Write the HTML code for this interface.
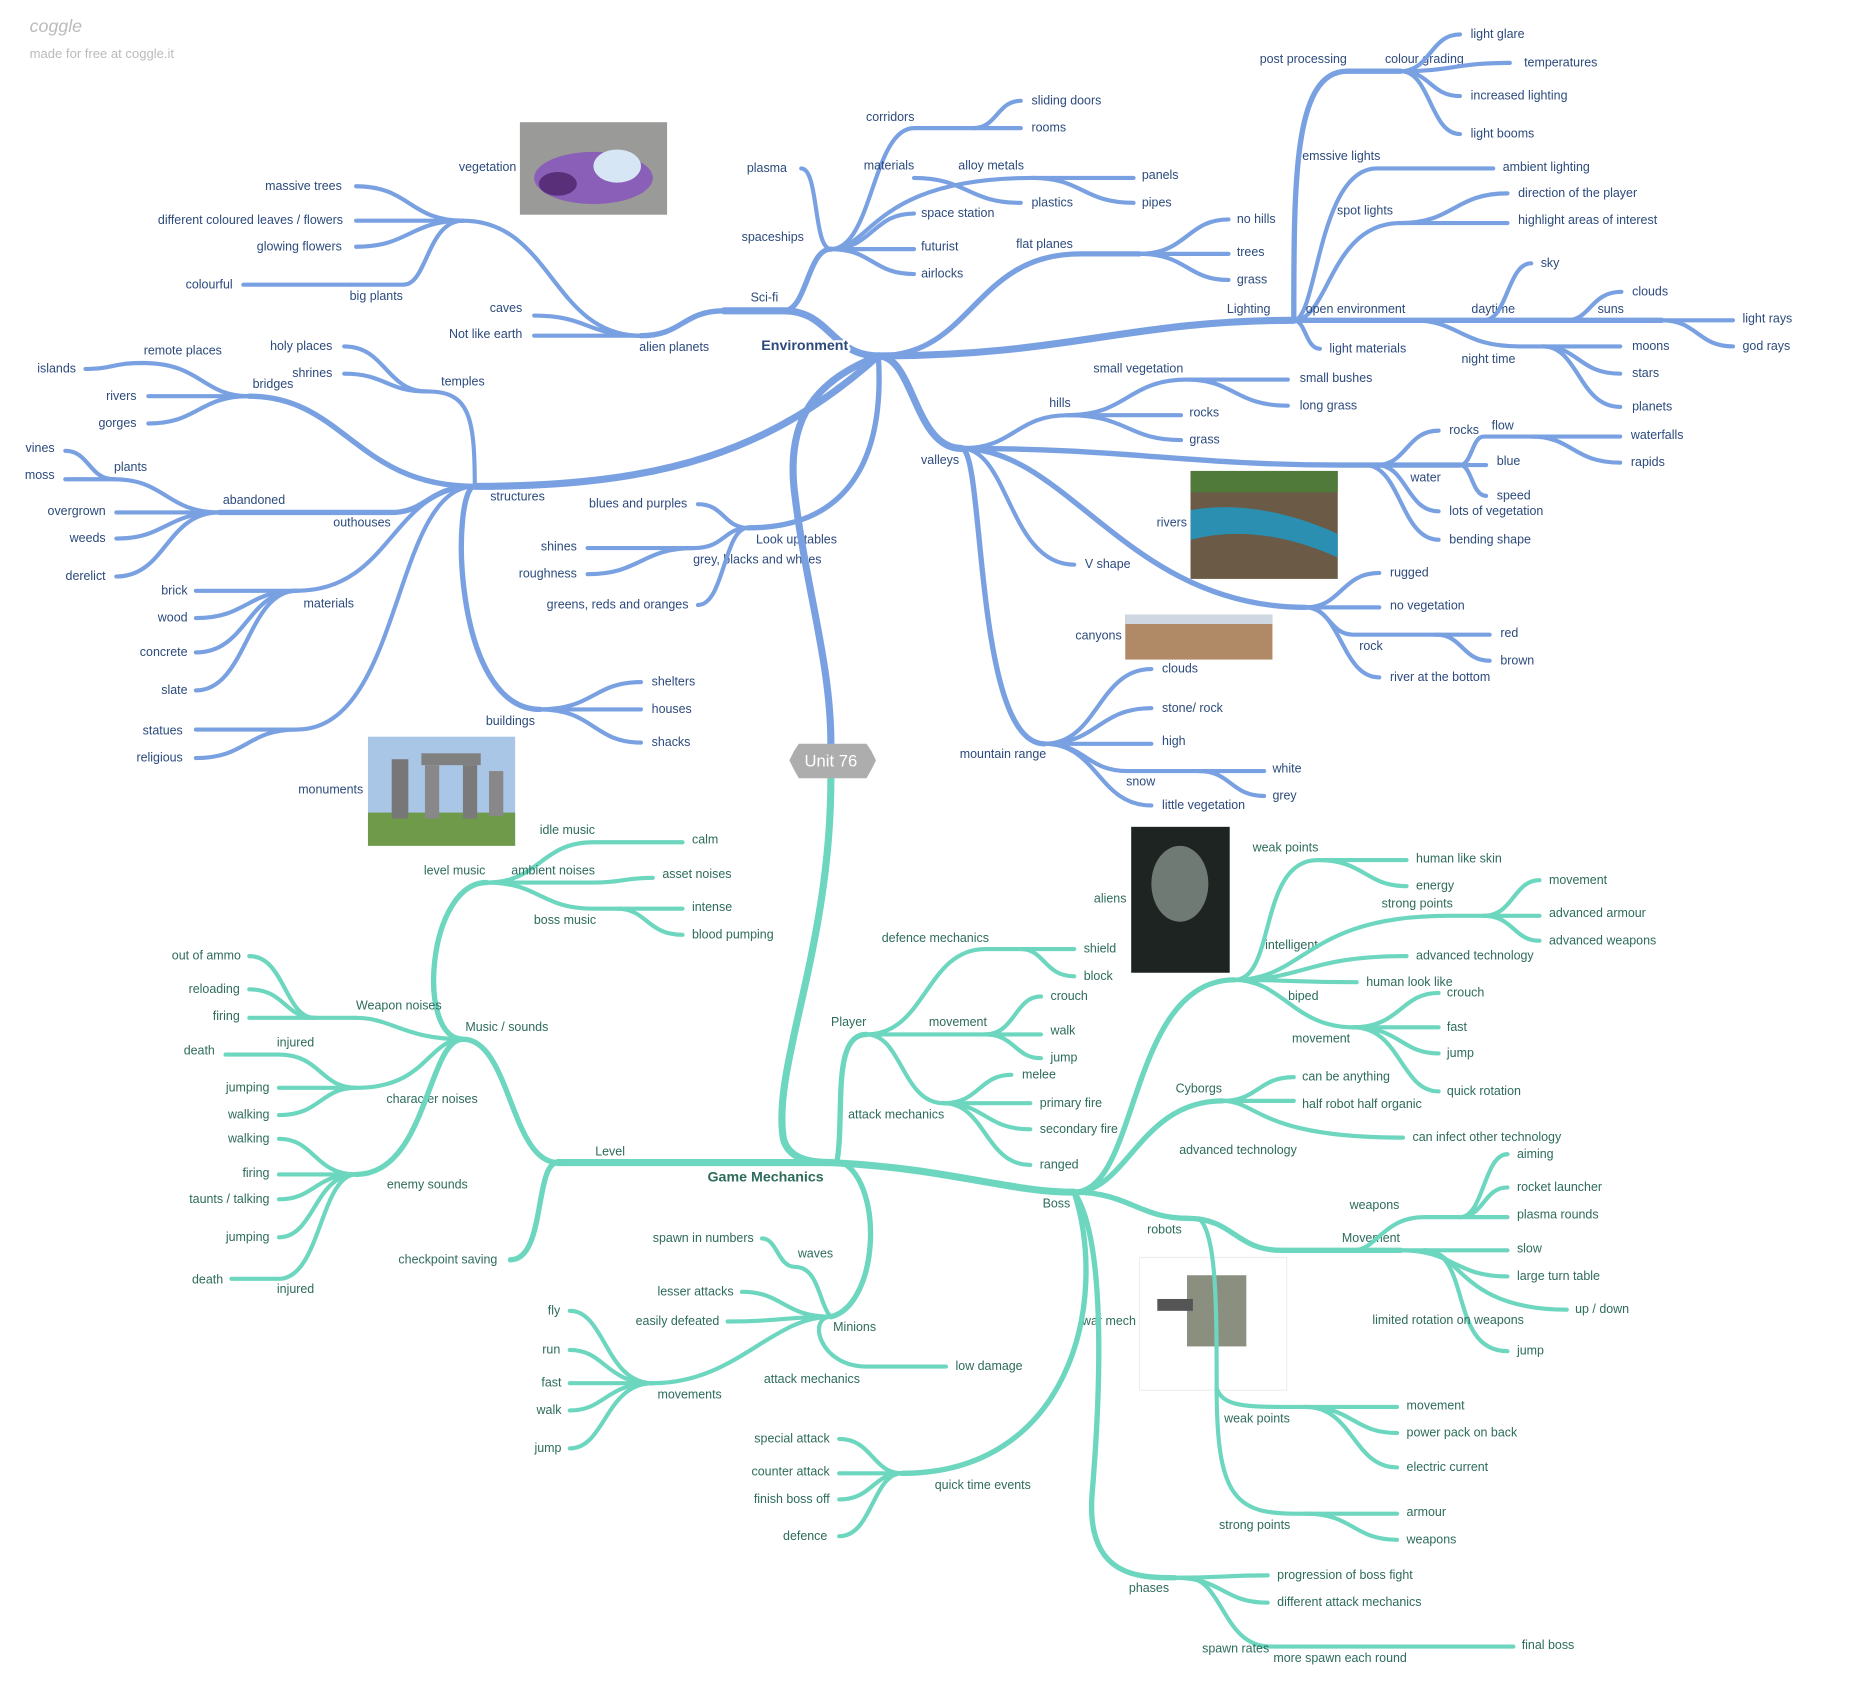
<!DOCTYPE html>
<html><head><meta charset="utf-8"><style>
html,body{margin:0;padding:0;background:#fff}
svg{display:block}
text{font-family:"Liberation Sans",sans-serif;font-size:10.5px}
.b path{stroke:#79a1e2;fill:none;stroke-linecap:round;stroke-width:3.5}
.g path{stroke:#6cd6bf;fill:none;stroke-linecap:round;stroke-width:3.5}
.b text{fill:#2c4a7c}.g text{fill:#2d6b5b}
.r{text-anchor:end}.c{text-anchor:middle}
.w6{stroke-width:6!important}.w5{stroke-width:4.5!important}
.halo{paint-order:stroke;stroke:#fff;stroke-width:4px;stroke-linejoin:round}
</style></head><body>
<svg width="1860" height="1694" viewBox="0 0 1567 1428" preserveAspectRatio="none" xmlns="http://www.w3.org/2000/svg">
<text x="25" y="27" style="font-size:15px;font-style:italic;fill:#bbb">coggle</text>
<text x="25" y="49" style="font-size:11px;fill:#bbb">made for free at coggle.it</text>

<rect x="438" y="103" width="124" height="78" fill="#9a9a98"/>
<ellipse cx="500" cy="150" rx="50" ry="22" fill="#8a5fb8"/><ellipse cx="520" cy="140" rx="20" ry="14" fill="#d7e6f5"/><ellipse cx="470" cy="155" rx="16" ry="10" fill="#5a2f7a"/>
<rect x="310" y="621" width="124" height="92" fill="#a9c6e6"/><rect x="310" y="685" width="124" height="28" fill="#6f9a4a"/>
<rect x="330" y="640" width="14" height="50" fill="#777"/><rect x="355" y="635" width="50" height="10" fill="#808080"/><rect x="358" y="645" width="12" height="45" fill="#888"/><rect x="390" y="645" width="12" height="45" fill="#7a7a7a"/><rect x="412" y="650" width="12" height="38" fill="#888"/>
<rect x="1003" y="397" width="124" height="91" fill="#6b5a45"/><path d="M1003 430 Q1060 420 1127 450 L1127 470 Q1060 440 1003 455Z" fill="#2a8fb0"/><rect x="1003" y="397" width="124" height="18" fill="#4f7a3a"/>
<rect x="948" y="518" width="124" height="38" fill="#b08a66"/><rect x="948" y="518" width="124" height="8" fill="#cfd8e2"/>
<rect x="953" y="697" width="83" height="123" fill="#1e2422"/><ellipse cx="994" cy="745" rx="24" ry="32" fill="#6f7a74"/>
<rect x="960" y="1060" width="124" height="112" fill="#fff" stroke="#eee"/><rect x="1000" y="1075" width="50" height="60" fill="#8a8f80"/><rect x="975" y="1095" width="30" height="10" fill="#555"/>

<g class="b">
<path class="w6" d="M740 300 C700 300 700 262 660 262 H610"/><text x="644" y="254" class="c">Sci-fi</text>
<path class="w5" d="M610 262 C575 262 575 283 540 283"/><text x="568" y="296" class="c">alien planets</text>
<path d="M540 283 C495 283 495 266 450 266"/><text x="440" y="263" class="r">caves</text>
<path d="M540 283 H450"/><text x="440" y="285" class="r">Not like earth</text>
<path d="M540 283 C465 283 465 186 390 186"/><text x="435" y="144" class="r">vegetation</text>
<path d="M390 186 C345 186 345 157 300 157"/><text x="288" y="160" class="r">massive trees</text>
<path d="M390 186 H300"/><text x="289" y="189" class="r">different coloured leaves / flowers</text>
<path d="M390 186 C345 186 345 208 300 208"/><text x="288" y="211" class="r">glowing flowers</text>
<path d="M390 186 C360 186 360 240 340 240 H295"/><text x="317" y="253" class="c">big plants</text>
<path d="M295 240 H205"/><text x="196" y="243" class="r">colourful</text>
<path class="w5" d="M660 262 C680 262 680 210 700 210"/><text x="651" y="203" class="c">spaceships</text>
<path d="M700 210 C685 210 690 142 675 142"/><text x="663" y="145" class="r">plasma</text>
<path d="M700 210 C735 210 735 108 770 108 H820"/><text x="750" y="102" class="c">corridors</text>
<path d="M820 108 C840 108 840 85 860 85"/><text x="869" y="88">sliding doors</text>
<path d="M820 108 H860"/><text x="869" y="111">rooms</text>
<path d="M700 210 C735 210 735 150 870 150"/><text x="749" y="143" class="c">materials</text><text x="835" y="143" class="c">alloy metals</text>
<path d="M870 150 H955"/><text x="962" y="151">panels</text>
<path d="M870 150 C912 150 912 171 955 171"/><text x="962" y="174">pipes</text>
<path d="M770 150 C815 150 815 171 860 171"/><text x="869" y="174">plastics</text>
<path d="M700 210 C735 210 735 180 770 180"/><text x="776" y="183">space station</text>
<path d="M700 210 H770"/><text x="776" y="211">futurist</text>
<path d="M700 210 C735 210 735 231 770 231"/><text x="776" y="234">airlocks</text>

<path class="w6" d="M740 300 C900 300 950 270 1090 270"/><text x="1052" y="264" class="c">Lighting</text>
<path class="w5" d="M1090 270 C1090 150 1090 60 1135 60 H1180"/><text x="1098" y="53" class="c">post processing</text>
<text x="1200" y="53" class="c">colour grading</text>
<path d="M1180 60 C1205 60 1205 29 1230 29"/><text x="1239" y="32">light glare</text>
<path d="M1180 60 C1225 60 1225 53 1272 53"/><text x="1284" y="56">temperatures</text>
<path d="M1180 60 C1205 60 1205 81 1230 81"/><text x="1239" y="84">increased lighting</text>
<path d="M1180 60 C1205 60 1205 113 1230 113"/><text x="1239" y="116">light booms</text>
<path d="M1090 270 C1110 270 1110 142 1160 142 H1258"/><text x="1130" y="135" class="c">emssive lights</text><text x="1266" y="144">ambient lighting</text>
<path d="M1090 270 C1120 270 1120 188 1180 188"/><text x="1150" y="181" class="c">spot lights</text>
<path d="M1180 188 C1225 188 1225 163 1270 163"/><text x="1279" y="166">direction of the player</text>
<path d="M1180 188 H1270"/><text x="1279" y="189">highlight areas of interest</text>
<path class="w5" d="M1090 270 H1400"/><text x="1142" y="264" class="c">open environment</text><text x="1258" y="264" class="c">daytime</text><text x="1357" y="264" class="c">suns</text>
<path d="M1250 270 C1270 270 1270 222 1290 222"/><text x="1298" y="225">sky</text>
<path d="M1400 270 H1460"/><text x="1468" y="272">light rays</text>
<path d="M1400 270 C1430 270 1430 292 1460 292"/><text x="1468" y="295">god rays</text>
<path d="M1320 270 C1340 270 1340 246 1366 246"/><text x="1375" y="249">clouds</text>
<path d="M1190 270 C1230 270 1230 292 1280 292 H1365"/><text x="1254" y="306" class="c">night time</text><text x="1375" y="295">moons</text>
<path d="M1300 292 C1330 292 1330 315 1365 315"/><text x="1375" y="318">stars</text>
<path d="M1300 292 C1330 292 1330 343 1365 343"/><text x="1375" y="346">planets</text>
<path d="M1090 270 C1100 270 1100 294 1112 294"/><text x="1120" y="297">light materials</text>

<path class="w5" d="M740 300 C820 300 820 214 910 214 H960"/><text x="880" y="209" class="c">flat planes</text>
<path d="M960 214 C1000 214 1000 185 1035 185"/><text x="1042" y="188">no hills</text>
<path d="M960 214 H1035"/><text x="1042" y="216">trees</text>
<path d="M960 214 C1000 214 1000 236 1035 236"/><text x="1042" y="239">grass</text>

<path class="w6" d="M740 300 C770 300 770 378 810 378"/><text x="792" y="391" class="c">valleys</text>
<path d="M810 378 C855 378 855 350 900 350"/><text x="893" y="343" class="c">hills</text>
<path d="M900 350 C950 350 950 320 1000 320 H1085"/><text x="959" y="314" class="c">small vegetation</text><text x="1095" y="322">small bushes</text>
<path d="M1000 320 C1040 320 1040 342 1085 342"/><text x="1095" y="345">long grass</text>
<path d="M900 350 H995"/><text x="1002" y="351">rocks</text>
<path d="M900 350 C950 350 950 371 995 371"/><text x="1002" y="374">grass</text>
<path class="w5" d="M810 378 C950 378 1000 392 1130 392 H1230"/><text x="1201" y="406" class="c">water</text>
<path d="M1160 392 C1185 392 1185 363 1212 363"/><text x="1221" y="366">rocks</text>
<path d="M1230 392 C1240 392 1240 368 1250 368 H1290"/><text x="1266" y="362" class="c">flow</text>
<path d="M1290 368 H1365"/><text x="1374" y="370">waterfalls</text>
<path d="M1290 368 C1325 368 1325 390 1365 390"/><text x="1374" y="393">rapids</text>
<path d="M1230 392 H1252"/><text x="1261" y="392">blue</text>
<path d="M1230 392 C1240 392 1240 418 1252 418"/><text x="1261" y="421">speed</text>
<path d="M1160 392 C1185 392 1185 431 1212 431"/><text x="1221" y="434">lots of vegetation</text>
<path d="M1150 392 C1180 392 1180 455 1212 455"/><text x="1221" y="458">bending shape</text>
<text x="1000" y="444" class="r">rivers</text>
<path d="M810 378 C850 378 850 476 905 476"/><text x="914" y="479">V shape</text>
<path class="w5" d="M810 378 C900 378 950 512 1100 512"/><text x="945" y="539" class="r">canyons</text>
<path d="M1100 512 C1130 512 1130 483 1162 483"/><text x="1171" y="486">rugged</text>
<path d="M1100 512 H1162"/><text x="1171" y="514">no vegetation</text>
<path d="M1100 512 C1120 512 1120 535 1140 535 H1210"/><text x="1155" y="548" class="c">rock</text>
<path d="M1210 535 H1255"/><text x="1264" y="537">red</text>
<path d="M1210 535 C1232 535 1232 557 1255 557"/><text x="1264" y="560">brown</text>
<path d="M1100 512 C1130 512 1130 571 1162 571"/><text x="1171" y="574">river at the bottom</text>
<path class="w5" d="M810 378 C830 378 820 627 880 627"/><text x="845" y="639" class="c">mountain range</text>
<path d="M880 627 C925 627 925 564 970 564"/><text x="979" y="567">clouds</text>
<path d="M880 627 C925 627 925 597 970 597"/><text x="979" y="600">stone/ rock</text>
<path d="M880 627 H970"/><text x="979" y="628">high</text>
<path d="M880 627 C915 627 915 650 950 650 H1010"/><text x="961" y="662" class="c">snow</text>
<path d="M1010 650 H1065"/><text x="1072" y="651">white</text>
<path d="M1010 650 C1037 650 1037 671 1065 671"/><text x="1072" y="674">grey</text>
<path d="M880 627 C925 627 925 679 970 679"/><text x="979" y="682">little vegetation</text>

<path class="w6" d="M740 300 C650 380 560 410 400 410"/><text x="436" y="422" class="c">structures</text>
<path d="M400 410 C400 350 395 330 360 330"/><text x="390" y="325" class="c">temples</text>
<path d="M360 330 C325 330 325 292 290 292"/><text x="280" y="295" class="r">holy places</text>
<path d="M360 330 C325 330 325 315 290 315"/><text x="280" y="318" class="r">shrines</text>
<path class="w5" d="M400 410 C300 410 290 334 210 334"/><text x="230" y="327" class="c">bridges</text>
<path d="M210 334 C170 334 170 306 120 306"/><text x="154" y="299" class="c">remote places</text>
<path d="M120 306 C95 306 95 311 72 311"/><text x="64" y="314" class="r">islands</text>
<path d="M210 334 H125"/><text x="115" y="337" class="r">rivers</text>
<path d="M210 334 C167 334 167 357 125 357"/><text x="115" y="360" class="r">gorges</text>
<path class="w5" d="M400 410 C360 410 360 432 330 432 H185"/><text x="214" y="425" class="c">abandoned</text><text x="305" y="444" class="c">outhouses</text>
<path d="M185 432 C140 432 140 404 96 404"/><text x="110" y="397" class="c">plants</text>
<path d="M96 404 C75 404 75 380 55 380"/><text x="46" y="381" class="r">vines</text>
<path d="M96 404 H55"/><text x="46" y="404" class="r">moss</text>
<path d="M185 432 H98"/><text x="89" y="434" class="r">overgrown</text>
<path d="M185 432 C140 432 140 454 98 454"/><text x="89" y="457" class="r">weeds</text>
<path d="M185 432 C140 432 140 486 98 486"/><text x="89" y="489" class="r">derelict</text>
<path d="M400 410 C330 410 330 498 250 498 H165"/><text x="277" y="512" class="c">materials</text><text x="158" y="501" class="r">brick</text>
<path d="M250 498 C208 498 208 521 165 521"/><text x="158" y="524" class="r">wood</text>
<path d="M250 498 C208 498 208 550 165 550"/><text x="158" y="553" class="r">concrete</text>
<path d="M250 498 C208 498 208 582 165 582"/><text x="158" y="585" class="r">slate</text>
<path d="M400 410 C330 410 340 615 250 615 H165"/><text x="154" y="619" class="r">statues</text>
<path d="M250 615 C208 615 208 639 165 639"/><text x="154" y="642" class="r">religious</text>
<text x="306" y="669" class="r">monuments</text>
<path class="w5" d="M400 410 C380 410 380 598 455 598"/><text x="430" y="611" class="c">buildings</text>
<path d="M455 598 C500 598 500 575 540 575"/><text x="549" y="578">shelters</text>
<path d="M455 598 H540"/><text x="549" y="601">houses</text>
<path d="M455 598 C500 598 500 626 540 626"/><text x="549" y="629">shacks</text>

<path class="w5" d="M740 300 C745 380 720 445 630 445"/><text x="671" y="458" class="c">Look up tables</text>
<path d="M630 445 C610 445 610 425 588 425"/><text x="579" y="428" class="r">blues and purples</text>
<path d="M630 445 C610 445 610 462 585 462 H495"/><text x="638" y="475" class="c">grey, blacks and whites</text><text x="486" y="464" class="r">shines</text>
<path d="M585 462 C540 462 540 484 495 484"/><text x="486" y="487" class="r">roughness</text>
<path d="M630 445 C610 445 610 510 588 510"/><text x="580" y="513" class="r">greens, reds and oranges</text>
<path class="w6" d="M740 300 C690 320 660 350 670 420 C680 500 700 560 700 627"/>
<text x="678" y="295" class="c halo" style="font-weight:bold;font-size:12px">Environment</text>
</g>

<g class="g">
<path class="w6" d="M700 656 C700 800 650 900 660 960 C665 980 690 980 700 980"/>
<path class="w6" d="M700 980 H470"/><text x="514" y="974" class="c">Level</text>
<path class="w5" d="M470 980 C430 980 430 876 390 876"/><text x="427" y="869" class="c">Music / sounds</text>
<path class="w5" d="M390 876 C350 876 360 744 410 744"/><text x="383" y="737" class="c">level music</text>
<path d="M410 744 C455 744 455 710 500 710 H575"/><text x="478" y="703" class="c">idle music</text><text x="583" y="711">calm</text>
<path d="M410 744 H500 C525 744 525 740 550 740"/><text x="466" y="737" class="c">ambient noises</text><text x="558" y="740">asset noises</text>
<path d="M410 744 C455 744 455 766 500 766 H575"/><text x="476" y="779" class="c">boss music</text><text x="583" y="768">intense</text>
<path d="M520 766 C545 766 545 788 575 788"/><text x="583" y="791">blood pumping</text>
<path d="M390 876 C340 876 330 858 300 858 H265"/><text x="336" y="851" class="c">Weapon noises</text>
<path d="M265 858 C240 858 240 806 210 806"/><text x="203" y="809" class="r">out of ammo</text>
<path d="M265 858 C240 858 240 834 210 834"/><text x="202" y="837" class="r">reloading</text>
<path d="M265 858 H210"/><text x="202" y="860" class="r">firing</text>
<path d="M390 876 C360 876 360 917 300 917"/><text x="364" y="930" class="c">character noises</text>
<path d="M300 917 C270 917 270 889 235 889 H190"/><text x="249" y="882" class="c">injured</text><text x="181" y="889" class="r">death</text>
<path d="M300 917 H235"/><text x="227" y="920" class="r">jumping</text>
<path d="M300 917 C270 917 270 940 235 940"/><text x="227" y="943" class="r">walking</text>
<path class="w5" d="M390 876 C360 876 360 990 300 990"/><text x="360" y="1002" class="c">enemy sounds</text>
<path d="M300 990 C265 990 265 960 235 960"/><text x="227" y="963" class="r">walking</text>
<path d="M300 990 H235"/><text x="227" y="992" class="r">firing</text>
<path d="M300 990 C265 990 265 1011 235 1011"/><text x="227" y="1014" class="r">taunts / talking</text>
<path d="M300 990 C265 990 265 1043 235 1043"/><text x="227" y="1046" class="r">jumping</text>
<path d="M300 990 C270 990 270 1078 235 1078 H195"/><text x="249" y="1090" class="c">injured</text><text x="188" y="1082" class="r">death</text>
<path class="w5" d="M470 980 C450 980 460 1062 430 1062"/><text x="419" y="1065" class="r">checkpoint saving</text>

<path class="w5" d="M705 980 C712 940 700 872 730 872"/><text x="715" y="865" class="c">Player</text>
<path d="M730 872 C780 872 780 800 830 800 H905"/><text x="788" y="794" class="c">defence mechanics</text><text x="913" y="803">shield</text>
<path d="M860 800 C880 800 880 823 905 823"/><text x="913" y="826">block</text>
<path d="M730 872 H830"/><text x="807" y="865" class="c">movement</text>
<path d="M830 872 C855 872 855 840 877 840"/><text x="885" y="843">crouch</text>
<path d="M830 872 H877"/><text x="885" y="872">walk</text>
<path d="M830 872 C855 872 855 892 877 892"/><text x="885" y="895">jump</text>
<path d="M730 872 C760 872 760 930 795 930"/><text x="755" y="943" class="c">attack mechanics</text>
<path d="M795 930 C825 930 825 906 852 906"/><text x="861" y="909">melee</text>
<path d="M795 930 H868"/><text x="876" y="933">primary fire</text>
<path d="M795 930 C830 930 830 952 868 952"/><text x="876" y="955">secondary fire</text>
<path d="M795 930 C830 930 830 982 868 982"/><text x="876" y="985">ranged</text>

<path class="w5" d="M710 980 C745 1000 740 1100 700 1110"/><text x="720" y="1122" class="c">Minions</text>
<path d="M700 1110 C690 1100 690 1068 670 1068"/><text x="687" y="1060" class="c">waves</text>
<path d="M670 1068 C655 1068 655 1044 642 1044"/><text x="635" y="1047" class="r">spawn in numbers</text>
<path d="M700 1110 C660 1110 660 1089 625 1089"/><text x="618" y="1092" class="r">lesser attacks</text>
<path d="M700 1110 C660 1110 660 1114 613 1114"/><text x="606" y="1117" class="r">easily defeated</text>
<path d="M700 1110 C650 1110 620 1166 550 1166"/><text x="581" y="1179" class="c">movements</text>
<path d="M550 1166 C510 1166 510 1105 480 1105"/><text x="472" y="1108" class="r">fly</text>
<path d="M550 1166 C510 1166 510 1138 480 1138"/><text x="472" y="1141" class="r">run</text>
<path d="M550 1166 H480"/><text x="473" y="1169" class="r">fast</text>
<path d="M550 1166 C510 1166 510 1189 480 1189"/><text x="473" y="1192" class="r">walk</text>
<path d="M550 1166 C510 1166 510 1221 480 1221"/><text x="473" y="1224" class="r">jump</text>
<path d="M700 1110 C680 1110 690 1152 730 1152 H797"/><text x="684" y="1166" class="c">attack mechanics</text><text x="805" y="1155">low damage</text>

<path class="w6" d="M700 980 C800 985 850 1005 905 1005"/><text x="890" y="1018" class="c">Boss</text>
<path class="w5" d="M905 1005 C960 1005 950 826 1040 826"/><text x="1088" y="800" class="c">intelligent</text><text x="949" y="761" class="r">aliens</text>
<path d="M1040 826 C1075 826 1060 725 1110 725 H1185"/><text x="1083" y="718" class="c">weak points</text><text x="1193" y="727">human like skin</text>
<path d="M1110 725 C1150 725 1150 747 1185 747"/><text x="1193" y="750">energy</text>
<path d="M1040 826 C1100 826 1100 772 1220 772 H1250"/><text x="1194" y="765" class="c">strong points</text>
<path d="M1250 772 C1275 772 1275 742 1297 742"/><text x="1305" y="745">movement</text>
<path d="M1250 772 H1297"/><text x="1305" y="773">advanced armour</text>
<path d="M1250 772 C1275 772 1275 793 1297 793"/><text x="1305" y="796">advanced weapons</text>
<path d="M1040 826 C1100 826 1100 806 1185 806"/><text x="1193" y="809">advanced technology</text>
<path d="M1040 826 C1090 826 1090 828 1143 828"/><text x="1151" y="831">human look like</text>
<path d="M1040 826 C1080 826 1090 866 1140 866"/><text x="1098" y="843" class="c">biped</text><text x="1113" y="879" class="c">movement</text>
<path d="M1140 866 C1180 866 1180 837 1212 837"/><text x="1219" y="840">crouch</text>
<path d="M1140 866 H1212"/><text x="1219" y="869">fast</text>
<path d="M1140 866 C1180 866 1180 888 1212 888"/><text x="1219" y="891">jump</text>
<path d="M1140 866 C1180 866 1180 920 1212 920"/><text x="1219" y="923">quick rotation</text>
<path class="w5" d="M905 1005 C950 1005 960 928 1030 928"/><text x="1010" y="921" class="c">Cyborgs</text>
<path d="M1030 928 C1060 928 1060 908 1090 908"/><text x="1097" y="911">can be anything</text>
<path d="M1030 928 H1090"/><text x="1097" y="934">half robot half organic</text>
<path d="M1030 928 C1060 928 1060 959 1182 959"/><text x="1190" y="962">can infect other technology</text>
<text x="1043" y="973" class="c">advanced technology</text>
<path class="w5" d="M905 1005 C950 1005 960 1027 1000 1027 C1040 1027 1040 1054 1080 1054 H1180"/><text x="981" y="1040" class="c">robots</text><text x="1155" y="1047" class="c">Movement</text>
<path d="M1140 1054 C1160 1054 1165 1026 1200 1026 H1230"/><text x="1158" y="1019" class="c">weapons</text>
<path d="M1230 1026 C1250 1026 1250 973 1270 973"/><text x="1278" y="976">aiming</text>
<path d="M1230 1026 C1250 1026 1250 1001 1270 1001"/><text x="1278" y="1004">rocket launcher</text>
<path d="M1230 1026 H1270"/><text x="1278" y="1027">plasma rounds</text>
<path d="M1180 1054 H1270"/><text x="1278" y="1056">slow</text>
<path d="M1180 1054 C1225 1054 1225 1076 1270 1076"/><text x="1278" y="1079">large turn table</text>
<path d="M1200 1054 C1230 1054 1230 1104 1320 1104"/><text x="1327" y="1107">up / down</text>
<path d="M1200 1054 C1240 1054 1220 1139 1270 1139"/><text x="1278" y="1142">jump</text>
<text x="1220" y="1116" class="c">limited rotation on weapons</text>
<path d="M1010 1027 C1025 1040 1025 1100 1025 1175"/>
<text x="957" y="1117" class="r">war mech</text>
<path d="M1025 1170 C1030 1186 1050 1186 1090 1186 H1177"/><text x="1059" y="1199" class="c">weak points</text><text x="1185" y="1188">movement</text>
<path d="M1100 1186 C1140 1186 1140 1208 1177 1208"/><text x="1185" y="1211">power pack on back</text>
<path d="M1100 1186 C1140 1186 1140 1237 1177 1237"/><text x="1185" y="1240">electric current</text>
<path d="M1025 1170 C1025 1260 1040 1276 1090 1276 H1177"/><text x="1057" y="1289" class="c">strong points</text><text x="1185" y="1278">armour</text>
<path d="M1100 1276 C1140 1276 1140 1298 1177 1298"/><text x="1185" y="1301">weapons</text>
<path class="w5" d="M905 1005 C935 1100 900 1242 760 1242"/><text x="828" y="1255" class="c">quick time events</text>
<path d="M760 1242 C735 1242 735 1213 707 1213"/><text x="699" y="1216" class="r">special attack</text>
<path d="M760 1242 H707"/><text x="699" y="1244" class="r">counter attack</text>
<path d="M760 1242 C735 1242 735 1264 707 1264"/><text x="699" y="1267" class="r">finish boss off</text>
<path d="M760 1242 C735 1242 735 1295 707 1295"/><text x="697" y="1298" class="r">defence</text>
<path class="w5" d="M905 1005 C935 1050 925 1200 920 1260 C915 1330 960 1330 990 1330"/><text x="968" y="1342" class="c">phases</text>
<path d="M990 1330 C1030 1330 1030 1328 1068 1328"/><text x="1076" y="1331">progression of boss fight</text>
<path d="M990 1330 C1030 1330 1030 1351 1068 1351"/><text x="1076" y="1354">different attack mechanics</text>
<path d="M1000 1330 C1030 1330 1030 1388 1070 1388 H1275"/><text x="1041" y="1393" class="c">spawn rates</text><text x="1129" y="1401" class="c">more spawn each round</text><text x="1282" y="1390">final boss</text>
<text x="645" y="996" class="c halo" style="font-weight:bold;font-size:12px">Game Mechanics</text>
</g>

<polygon points="669,633 673,627 730,627 734,633 738,641 734,649 730,656 673,656 669,649 665,641" fill="#adadad"/>
<text x="700" y="646" text-anchor="middle" style="font-size:14px;fill:#fff">Unit 76</text>
</svg>
</body></html>
